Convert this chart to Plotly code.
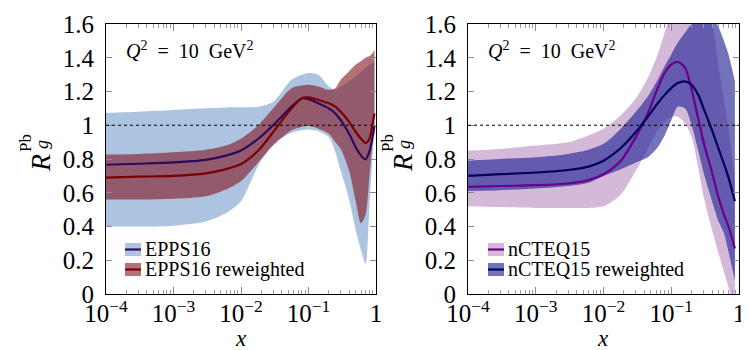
import plotly.graph_objects as go

# ---------------- data ----------------
x_epps = [1e-4, 3e-4, 1e-3, 3e-3, 6e-3, 1e-2, 0.018, 0.03, 0.056, 0.08, 0.1,
          0.14, 0.2, 0.25, 0.3, 0.4, 0.5, 0.6, 0.7, 0.8, 0.9, 0.95]
epps_central = [0.766, 0.772, 0.78, 0.795, 0.82, 0.85, 0.92, 1.0, 1.11, 1.16, 1.155,
                1.13, 1.10, 1.07, 1.03, 0.95, 0.87, 0.82, 0.797, 0.845, 0.94, 1.0]
epps_upper = [1.073, 1.08, 1.09, 1.10, 1.105, 1.106, 1.11, 1.14, 1.27, 1.30, 1.31,
              1.30, 1.23, 1.21, 1.23, 1.26, 1.29, 1.32, 1.34, 1.36, 1.37, 1.38]
epps_lower = [0.40, 0.40, 0.405, 0.43, 0.48, 0.55, 0.76, 0.89, 0.955, 0.97, 0.975,
              0.965, 0.93, 0.84, 0.73, 0.56, 0.38, 0.26, 0.18, 0.52, 0.85, 0.98]
eppsrw_central = [0.69, 0.695, 0.70, 0.715, 0.74, 0.77, 0.85, 0.96, 1.10, 1.16, 1.165,
                  1.15, 1.13, 1.11, 1.08, 1.02, 0.96, 0.92, 0.895, 0.92, 1.02, 1.07]
eppsrw_upper = [0.826, 0.83, 0.84, 0.855, 0.88, 0.92, 1.0, 1.10, 1.22, 1.235, 1.24,
                1.23, 1.21, 1.22, 1.27, 1.32, 1.36, 1.38, 1.40, 1.41, 1.43, 1.45]
eppsrw_lower = [0.56, 0.56, 0.565, 0.58, 0.62, 0.67, 0.78, 0.88, 0.97, 0.99, 0.995,
                0.98, 0.95, 0.90, 0.86, 0.73, 0.55, 0.42, 0.47, 0.70, 0.92, 1.0]

x_ncteq = [1e-4, 3e-4, 1e-3, 3e-3, 6e-3, 1e-2, 0.018, 0.03, 0.045, 0.063, 0.08,
           0.1, 0.125, 0.16, 0.2, 0.25, 0.3, 0.4, 0.5, 0.6, 0.7, 0.87]
ncteq_central = [0.635, 0.64, 0.645, 0.655, 0.675, 0.71, 0.79, 0.93, 1.07, 1.22, 1.31,
                 1.36, 1.375, 1.34, 1.21, 1.04, 0.90, 0.72, 0.57, 0.47, 0.40, 0.27]
ncteq_upper = [0.85, 0.86, 0.88, 0.90, 0.94, 0.98, 1.06, 1.16, 1.28, 1.42, 1.55,
               1.66, 1.75, 1.80, 1.80, 1.75, 1.70, 1.60, 1.35, 1.15, 0.98, 0.68]
ncteq_lower = [0.52, 0.515, 0.51, 0.51, 0.51, 0.52, 0.59, 0.73, 0.86, 0.97, 1.02,
               1.05, 1.05, 1.01, 0.93, 0.75, 0.58, 0.38, 0.24, 0.13, 0.04, -0.1]
ncteqrw_central = [0.70, 0.71, 0.72, 0.735, 0.755, 0.79, 0.865, 0.96, 1.05, 1.13, 1.18,
                   1.22, 1.25, 1.26, 1.24, 1.18, 1.10, 0.97, 0.86, 0.77, 0.69, 0.55]
ncteqrw_upper = [0.79, 0.80, 0.81, 0.83, 0.855, 0.89, 0.98, 1.08, 1.17, 1.27, 1.35,
                 1.42, 1.49, 1.55, 1.60, 1.64, 1.66, 1.64, 1.58, 1.50, 1.42, 1.26]
ncteqrw_lower = [0.61, 0.615, 0.625, 0.64, 0.66, 0.70, 0.74, 0.78, 0.81, 0.87, 0.94,
                 1.03, 1.11, 1.10, 1.00, 0.85, 0.72, 0.55, 0.43, 0.36, 0.25, 0.08]

y_ticks = [0, 0.2, 0.4, 0.6, 0.8, 1.0, 1.2, 1.4, 1.6]
y_ticktext = ["0", "0.2", "0.4", "0.6", "0.8", "1", "1.2", "1.4", "1.6"]
x_ticks = [1e-4, 1e-3, 1e-2, 1e-1, 1]
x_ticktext = ["10<sup>\u22124</sup>", "10<sup>\u22123</sup>", "10<sup>\u22122</sup>",
              "10<sup>\u22121</sup>", "1"]
x_minor = [m * 10.0 ** e for e in (-4, -3, -2, -1) for m in range(2, 10)]
ref_level = 1.0

legend_left = ["EPPS16", "EPPS16 reweighted"]
legend_right = ["nCTEQ15", "nCTEQ15 reweighted"]
q2_label = ("<i>Q</i><sup>2</sup>\u00a0\u00a0=\u00a0\u00a010"
            "\u00a0\u00a0GeV<sup>2</sup>")

# ---------------- styles ----------------
FONT = "Liberation Serif"
W, H = 749, 350
c_blue_fill = "rgb(173,196,224)"
c_epps_line = "rgb(45,10,90)"
c_maroon_fill = "rgba(128,20,30,0.6)"
c_red_line = "rgb(120,0,0)"
c_pink_fill = "rgba(150,80,160,0.4)"
c_purple_line = "rgb(105,0,140)"
c_navy_fill = "rgba(40,40,150,0.65)"
c_navy_line = "rgb(0,0,95)"

fig = go.Figure()


def band(x, lo, hi, color, xa, ya):
    fig.add_trace(go.Scatter(x=x, y=lo, mode="lines", line=dict(width=0, shape="spline", smoothing=0.8),
                             hoverinfo="skip", showlegend=False, xaxis=xa, yaxis=ya))
    fig.add_trace(go.Scatter(x=x, y=hi, mode="lines", fill="tonexty", fillcolor=color,
                             line=dict(width=0, shape="spline", smoothing=0.8),
                             hoverinfo="skip", showlegend=False, xaxis=xa, yaxis=ya))


def curve(x, y, color, xa, ya):
    fig.add_trace(go.Scatter(x=x, y=y, mode="lines",
                             line=dict(width=2.2, color=color, shape="spline", smoothing=0.8),
                             showlegend=False, xaxis=xa, yaxis=ya))


band(x_epps, epps_lower, epps_upper, c_blue_fill, "x", "y")
band(x_epps, eppsrw_lower, eppsrw_upper, c_maroon_fill, "x", "y")
curve(x_epps, epps_central, c_epps_line, "x", "y")
curve(x_epps, eppsrw_central, c_red_line, "x", "y")

band(x_ncteq, ncteq_lower, ncteq_upper, c_pink_fill, "x2", "y2")
band(x_ncteq, ncteqrw_lower, ncteqrw_upper, c_navy_fill, "x2", "y2")
curve(x_ncteq, ncteq_central, c_purple_line, "x2", "y2")
curve(x_ncteq, ncteqrw_central, c_navy_line, "x2", "y2")

L0, L1 = 98 / W, 368 / W
R0, R1 = 460 / W, 731 / W
Y0, Y1 = (H - 286) / H, (H - 16) / H

xaxis_common = dict(type="log", range=[-4, 0], tickmode="array", tickvals=x_ticks, ticktext=x_ticktext,
                    showline=True, linecolor="black", linewidth=1, mirror="allticks",
                    ticks="inside", ticklen=7, tickcolor="#8a8a8a", tickwidth=1,
                    minor=dict(tickmode="array", tickvals=x_minor, ticks="inside", ticklen=4,
                               tickcolor="#9a9a9a", tickwidth=1, showgrid=False),
                    showgrid=False, zeroline=False, automargin=False, ticklabelstandoff=-3,
                    tickfont=dict(family=FONT, size=25, color="black"))
yaxis_common = dict(range=[0, 1.6], tickmode="array", tickvals=y_ticks, ticktext=y_ticktext,
                    showline=True, linecolor="black", linewidth=1,
                    mirror="allticks", ticks="inside", ticklen=6, tickcolor="#8a8a8a", tickwidth=1,
                    showgrid=False, zeroline=False, automargin=False, ticklabelstandoff=6,
                    tickfont=dict(family=FONT, size=25, color="black"))

fig.update_layout(
    width=W, height=H, margin=dict(l=0, r=0, t=0, b=0),
    paper_bgcolor="white", plot_bgcolor="white", showlegend=False,
    font=dict(family=FONT),
    xaxis=dict(domain=[L0, L1], anchor="y", **xaxis_common),
    yaxis=dict(domain=[Y0, Y1], anchor="x", **yaxis_common),
    xaxis2=dict(domain=[R0, R1], anchor="y2", **xaxis_common),
    yaxis2=dict(domain=[Y0, Y1], anchor="x2", **yaxis_common),
)

shapes = []
annotations = []
for xa, ya in (("x", "y"), ("x2", "y2")):
    shapes.append(dict(type="line", xref=f"{xa} domain", yref=ya, x0=0, x1=1, y0=ref_level, y1=ref_level,
                       line=dict(color="black", width=1, dash="dot"), layer="above"))


def px2x(px):
    return px / W


def py2y(py):
    return (H - py) / H


legend_specs = [
    (117, legend_left, [(c_blue_fill, c_epps_line), (c_maroon_fill, c_red_line)]),
    (480, legend_right, [(c_pink_fill, c_purple_line), (c_navy_fill, c_navy_line)]),
]
for x0, labels, styles in legend_specs:
    for i, (lab, (fc, lc)) in enumerate(zip(labels, styles)):
        yc = 241.5 + 20 * i
        shapes.append(dict(type="rect", xref="paper", yref="paper",
                           x0=px2x(x0), x1=px2x(x0 + 16), y0=py2y(yc + 6.5), y1=py2y(yc - 6.5),
                           fillcolor=fc, line=dict(width=0), layer="above"))
        shapes.append(dict(type="line", xref="paper", yref="paper",
                           x0=px2x(x0), x1=px2x(x0 + 16), y0=py2y(yc), y1=py2y(yc),
                           line=dict(color=lc, width=2.2), layer="above"))
        annotations.append(dict(xref="paper", yref="paper", x=px2x(x0 + 19), y=py2y(yc),
                                xanchor="left", yanchor="middle", showarrow=False, text=lab,
                                borderpad=0, font=dict(family=FONT, size=20, color="black")))

for off in (0, 362):
    annotations.append(dict(xref="paper", yref="paper", x=px2x(116 + off), y=py2y(42),
                            xanchor="left", yanchor="middle", showarrow=False, text=q2_label,
                            font=dict(family=FONT, size=20, color="black")))
    annotations.append(dict(xref="paper", yref="paper", x=px2x(233 + off), y=py2y(330),
                            xanchor="center", yanchor="middle", showarrow=False, text="<i>x</i>",
                            borderpad=0, font=dict(family=FONT, size=23, color="black")))
    annotations.append(dict(xref="paper", yref="paper", x=px2x(32 + off), y=py2y(155),
                            xanchor="center", yanchor="middle", showarrow=False, text="<i>R</i>",
                            textangle=-90, font=dict(family=FONT, size=28, color="black")))
    annotations.append(dict(xref="paper", yref="paper", x=px2x(17 + off), y=py2y(135),
                            xanchor="center", yanchor="middle", showarrow=False, text="Pb",
                            textangle=-90, font=dict(family=FONT, size=17, color="black")))
    annotations.append(dict(xref="paper", yref="paper", x=px2x(34 + off), y=py2y(137),
                            xanchor="center", yanchor="middle", showarrow=False, text="<i>g</i>",
                            textangle=-90, font=dict(family=FONT, size=18, color="black")))

fig.update_layout(shapes=shapes, annotations=annotations)
fig.write_html("out.html")
